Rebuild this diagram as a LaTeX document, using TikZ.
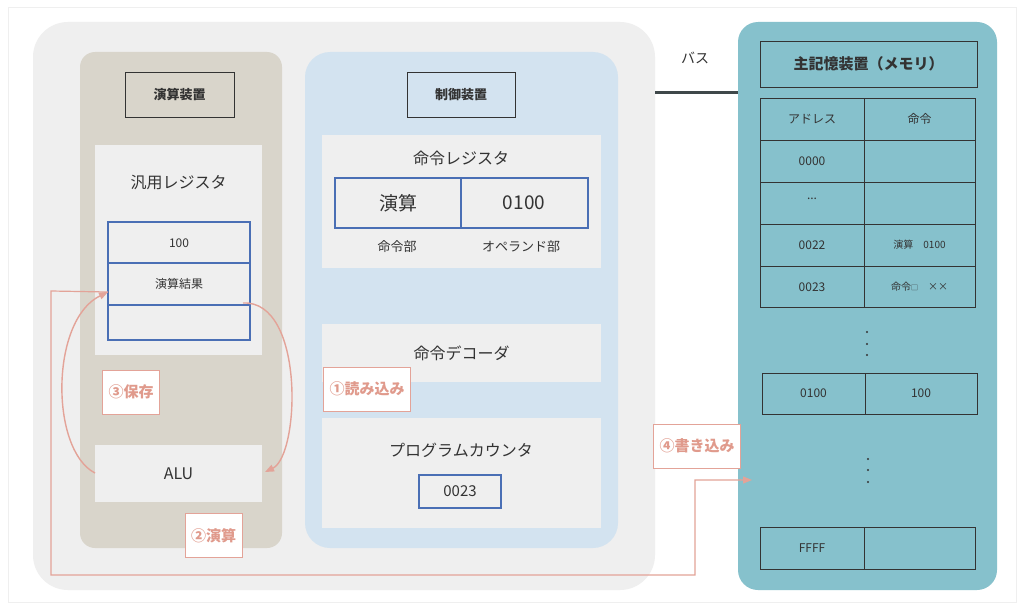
\documentclass[tikz,border=0pt]{standalone}
\usepackage{fontspec}
\setmainfont{Noto Sans CJK JP}
\usetikzlibrary{arrows.meta}
\definecolor{pk}{HTML}{E3A398}
\definecolor{pkt}{HTML}{E09A8C}
\definecolor{bl}{HTML}{4A6FB5}
\definecolor{gr}{HTML}{EFEFEF}
\definecolor{be}{HTML}{D9D5CB}
\definecolor{lb}{HTML}{D3E3F0}
\definecolor{tl}{HTML}{86C1CC}
\definecolor{dk}{HTML}{333333}
\begin{document}
\begin{tikzpicture}[x=1pt,y=-1pt,
 panel/.style={fill=gr,draw=none},
 title/.style={draw=dk,line width=0.8pt,font=\fontsize{13}{15}\selectfont\bfseries,text=dk},
 lbl/.style={draw=pk,fill=white,line width=0.8pt,text=pkt,font=\fontsize{15}{17}\selectfont\bfseries,minimum height=44pt,inner xsep=6pt},
 pa/.style={draw=pk,line width=1.4pt,-{Triangle[length=9pt,width=7pt]}},
 cell/.style={draw=dk,line width=0.8pt},
 t/.style={text=dk,font=\fontsize{12}{14}\selectfont}]
\useasboundingbox (0,0) rectangle (1024,610);
\fill[white] (0,0) rectangle (1024,610);
\draw[gr,line width=1pt] (8,8) rectangle (1016,602);
\fill[gr,rounded corners=35pt] (33,22) rectangle (655,590);
\fill[be,rounded corners=15pt] (80,52) rectangle (282,548);
\fill[lb,rounded corners=25pt] (305,52) rectangle (618,548);
\fill[tl,rounded corners=20pt] (738,22) rectangle (997,590);
% arithmetic unit
\node[title,fill=be,minimum width=109pt,minimum height=45pt] (en) at (179.5,94.5) {演算装置};
\fill[gr] (95,145) rectangle (262,355);
\node[t,font=\fontsize{16}{18}\selectfont] (hr) at (178.5,183) {汎用レジスタ};
\draw[bl,line width=1.5pt] (108,222) rectangle (250,340) (108,263)--(250,263) (108,305)--(250,305);
\node[t] (r1) at (179,243) {100};
\node[t] (r2) at (179,284) {演算結果};
\coordinate (r2w) at (108,292);
\coordinate (r2e) at (243,303);
\node[panel,minimum width=167pt,minimum height=57pt,t,font=\fontsize{16}{18}\selectfont] (alu) at (178.5,473.5) {ALU};
% control unit
\node[title,fill=lb,minimum width=108pt,minimum height=45pt] (se) at (461,94.5) {制御装置};
\fill[gr] (322,135) rectangle (601,268);
\node[t,font=\fontsize{16}{18}\selectfont] (ir) at (461,158) {命令レジスタ};
\draw[bl,line width=1.5pt] (335,178) rectangle (588,228) (461,178)--(461,228);
\node[t,font=\fontsize{19}{21}\selectfont] (op) at (398,203) {演算};
\node[t,font=\fontsize{19}{21}\selectfont] (od) at (524,203) {0100};
\node[t,font=\fontsize{13}{15}\selectfont] (opl) at (397,247) {命令部};
\node[t,font=\fontsize{13}{15}\selectfont] (odl) at (521,247) {オペランド部};
\node[panel,minimum width=279pt,minimum height=58pt,t,font=\fontsize{16}{18}\selectfont] (dec) at (461.5,353) {命令デコーダ};
\fill[gr] (322,418) rectangle (601,528);
\node[t,font=\fontsize{16}{18}\selectfont] (pc) at (461,450) {プログラムカウンタ};
\node[draw=bl,line width=1.5pt,minimum width=82pt,minimum height=33pt,t,font=\fontsize{15}{17}\selectfont] (pcv) at (460,491.5) {0023};
% bus
\node[t,font=\fontsize{14}{16}\selectfont] (bus) at (695,58) {バス};
\coordinate (b1) at (655,92); \coordinate (b2) at (738,92);
\draw[dk!85!tl,line width=3pt] (b1)--(b2);
% memory
\node[title,fill=tl,minimum width=217pt,minimum height=46pt,font=\fontsize{15}{17}\selectfont\bfseries] (mem) at (868.5,64) {主記憶装置（メモリ）};
\draw[cell] (760,98) rectangle (975,307) (864,98)--(864,307);
\foreach \y in {140,182,224,266} \draw[cell] (760,\y)--(975,\y);
\node[t] (h1) at (812,119) {アドレス};
\node[t] (h2) at (919.5,119) {命令};
\node[t] (a0) at (812,161) {0000};
\node[t] (a1) at (812,199) {...};
\node[t] (a2) at (812,245) {0022};
\node[t,font=\fontsize{10}{12}\selectfont] (c2) at (919.5,245) {演算\quad 0100};
\node[t] (a3) at (812,287) {0023};
\node[t,font=\fontsize{10}{12}\selectfont] (c3) at (919.5,287) {命令{\fontsize{7}{8}\selectfont □}\quad ××};
\foreach \y in {332,344,355} \fill[dk] (867,\y) circle (1.1pt);
\draw[cell] (762,373) rectangle (977,414) (865,373)--(865,414);
\node[t] (m1) at (813.5,393.5) {0100};
\node[t] (m2) at (921,393.5) {100};
\foreach \y in {459,470,482} \fill[dk] (868,\y) circle (1.1pt);
\draw[cell] (760,527) rectangle (975,569) (864,527)--(864,569);
\node[t] (ff) at (812,548) {FFFF};
% arrows
\coordinate (alue) at (265,472);
\coordinate (aluw) at (95,473);
\draw[pa] (r2e) .. controls (305,300) and (300,455) .. (alue);
\draw[pa] (aluw) .. controls (50,450) and (50,320) .. (r2w);
\coordinate (p1) at (51,291); \coordinate (p2) at (51,575); \coordinate (p3) at (695,575); \coordinate (p4) at (695,480); \coordinate (p5) at (752,480);
\draw[pa,line width=1.2pt] (r2w) -- (p1) -- (p2) -- (p3) -- (p4) -- (p5);
\node[lbl] (l1) at (367,389) {①読み込み};
\node[lbl] (l2) at (213.5,535.5) {②演算};
\node[lbl] (l3) at (131,392) {③保存};
\node[lbl] (l4) at (697,446) {④書き込み};
\end{tikzpicture}
\end{document}
